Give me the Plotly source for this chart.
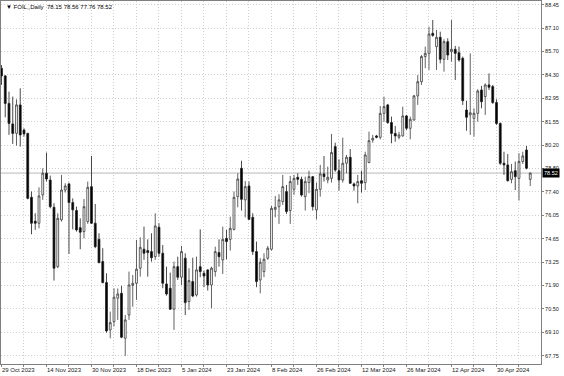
import plotly.graph_objects as go

# ---- data ----
opens = [84.70, 84.25, 82.63, 81.42, 80.86, 82.54, 81.06, 80.86, 77.09, 75.68,
         75.56, 77.23, 78.51, 78.11, 76.50, 73.00, 75.76, 77.52, 77.88, 76.78,
         76.31, 75.30, 75.07, 75.66, 77.72, 75.56, 74.61, 73.30, 72.06, 69.27,
         69.76, 71.14, 71.43, 68.78, 70.15, 71.90, 72.02, 72.91, 74.03, 73.95,
         73.89, 73.59, 75.32, 73.79, 71.98, 71.73, 70.49, 73.00, 72.38, 73.50,
         70.94, 72.12, 71.33, 73.00, 72.61, 72.81, 71.92, 72.71, 73.83, 73.40,
         74.67, 74.61, 75.20, 77.13, 78.80, 76.94, 77.76, 75.91, 73.89, 72.22,
         72.71, 73.50, 74.03, 76.38, 76.54, 76.84, 77.43, 76.31, 77.56, 78.27,
         78.15, 77.13, 77.96, 78.31, 76.35, 77.56, 78.47, 78.11, 78.21, 80.08,
         78.66, 78.11, 79.10, 79.45, 77.88, 77.76, 78.07, 77.96, 79.14, 80.47,
         80.71, 80.63, 82.04, 82.54, 81.50, 80.86, 80.63, 80.71, 81.89, 81.16,
         81.65, 83.07, 83.91, 85.39, 85.58, 86.76, 85.98, 86.53, 85.23, 86.27,
         85.68, 85.82, 85.62, 85.29, 82.24, 81.95, 81.75, 82.04, 83.42, 83.03,
         83.72, 83.62, 82.68, 81.45, 79.10, 79.00, 78.15, 78.66, 78.21, 79.20,
         79.88, 78.15]
highs = [84.89, 84.30, 83.32, 83.03, 82.87, 83.52, 81.16, 80.90, 77.43, 76.15,
         77.68, 78.80, 79.73, 78.37, 76.74, 76.15, 78.41, 77.92, 77.96, 77.03,
         76.54, 75.85, 76.99, 78.02, 79.53, 76.70, 74.97, 74.09, 72.61, 70.35,
         71.73, 71.71, 71.87, 70.15, 72.71, 72.51, 74.58, 74.73, 75.36, 74.61,
         74.97, 76.15, 75.56, 74.28, 73.00, 72.65, 73.30, 73.59, 74.22, 73.79,
         72.91, 73.53, 73.59, 75.20, 72.77, 72.85, 73.00, 74.18, 74.61, 75.36,
         75.17, 75.95, 77.43, 78.51, 79.25, 78.05, 78.02, 76.15, 74.48, 73.50,
         73.79, 74.22, 76.58, 77.17, 77.27, 78.41, 77.82, 78.35, 78.41, 78.51,
         78.31, 78.31, 78.66, 78.35, 77.96, 79.00, 79.53, 78.90, 80.83, 80.31,
         79.33, 80.61, 79.59, 79.94, 77.96, 78.41, 78.66, 79.78, 80.96, 80.77,
         80.77, 82.48, 83.03, 82.60, 81.85, 81.30, 80.96, 82.44, 81.95, 81.85,
         83.13, 84.30, 85.48, 85.98, 87.15, 87.55, 86.96, 86.86, 86.41, 86.47,
         87.55, 86.02, 85.98, 85.39, 82.79, 85.58, 82.34, 83.46, 83.66, 83.81,
         84.40, 83.72, 82.87, 81.50, 79.78, 79.65, 79.06, 79.20, 79.69, 79.78,
         80.12, 78.56]
lows = [83.72, 81.81, 80.77, 80.24, 80.14, 80.08, 80.67, 76.97, 74.91, 75.17,
        75.26, 76.94, 78.02, 76.44, 72.18, 72.91, 75.66, 77.37, 73.75, 75.20,
        75.07, 74.03, 74.67, 75.52, 75.52, 74.09, 73.20, 72.02, 69.11, 68.78,
        69.47, 69.86, 68.78, 67.74, 69.86, 70.64, 71.04, 72.41, 73.40, 72.41,
        73.30, 73.40, 73.59, 71.73, 71.29, 70.45, 69.27, 72.22, 71.92, 70.15,
        70.45, 71.20, 71.24, 72.38, 71.79, 71.59, 70.55, 72.41, 73.00, 72.57,
        73.44, 73.95, 75.13, 76.50, 76.31, 75.91, 75.76, 73.69, 71.79, 71.43,
        72.38, 73.40, 73.95, 75.91, 75.52, 76.64, 76.11, 75.52, 77.23, 77.82,
        77.13, 76.31, 77.33, 76.31, 75.79, 77.13, 78.02, 77.92, 77.96, 78.60,
        77.48, 77.96, 78.51, 77.88, 77.48, 76.74, 77.37, 77.52, 79.10, 80.31,
        80.57, 80.51, 81.55, 81.42, 80.28, 80.37, 80.51, 80.67, 81.06, 80.51,
        81.61, 82.54, 83.72, 84.70, 84.60, 86.56, 84.60, 84.99, 84.50, 85.19,
        85.09, 84.01, 85.09, 82.54, 81.02, 80.77, 80.67, 81.55, 82.34, 81.95,
        83.42, 82.60, 81.36, 79.00, 78.41, 78.02, 77.92, 77.52, 76.90, 79.06,
        78.74, 77.76]
closes = [84.25, 82.63, 81.45, 80.86, 82.54, 80.77, 80.83, 77.03, 75.56, 75.56,
          77.17, 78.51, 78.17, 76.54, 72.91, 75.85, 77.52, 77.76, 76.78, 76.35,
          75.17, 75.03, 76.54, 77.68, 75.56, 74.18, 73.24, 72.06, 69.21, 69.70,
          71.20, 71.39, 68.84, 69.86, 71.92, 72.02, 72.85, 74.14, 73.79, 73.83,
          73.53, 75.40, 73.79, 72.02, 71.39, 70.49, 73.00, 72.38, 73.89, 70.88,
          72.18, 71.27, 72.81, 72.71, 72.45, 71.92, 72.91, 73.89, 73.59, 74.61,
          74.48, 75.26, 77.09, 78.17, 76.97, 77.72, 75.79, 73.89, 72.12, 73.26,
          73.44, 74.09, 76.44, 76.50, 76.94, 77.72, 76.25, 78.02, 78.21, 78.15,
          77.23, 78.02, 78.31, 76.54, 77.56, 78.47, 78.31, 78.27, 79.73, 78.70,
          78.11, 79.10, 79.45, 77.92, 77.76, 78.02, 77.92, 79.59, 80.43, 80.57,
          80.63, 82.04, 82.44, 81.50, 80.86, 80.71, 80.77, 81.89, 81.16, 81.69,
          83.07, 83.91, 85.39, 85.58, 86.72, 86.64, 86.53, 85.23, 86.27, 85.48,
          85.82, 85.58, 85.19, 82.79, 81.81, 82.08, 82.04, 83.36, 82.73, 83.72,
          83.58, 82.68, 81.45, 79.10, 79.00, 78.07, 78.60, 78.31, 79.20, 79.53,
          78.80, 78.52]

date_labels = ["29 Oct 2023", "14 Nov 2023", "30 Nov 2023", "18 Dec 2023",
               "5 Jan 2024", "23 Jan 2024", "8 Feb 2024", "26 Feb 2024",
               "12 Mar 2024", "26 Mar 2024", "12 Apr 2024", "30 Apr 2024"]
bars_per_label = 12

price_ticks = ["88.45", "87.10", "85.70", "84.30", "82.95", "81.55", "80.20", "78.80",
               "77.40", "76.05", "74.65", "73.25", "71.90", "70.50", "69.10", "67.75"]
price_top = 88.45
price_step = 1.38

symbol_title = "FOIL,,Daily"
last_price = closes[-1]

# ---- figure ----
n = len(opens)
xs = list(range(n))
FONT = "Liberation Sans"

fig = go.Figure(go.Candlestick(
    x=xs, open=opens, high=highs, low=lows, close=closes,
    increasing=dict(line=dict(color="#3a3a3a", width=0.8), fillcolor="#ffffff"),
    decreasing=dict(line=dict(color="#1a1a1a", width=0.8), fillcolor="#000000"),
    whiskerwidth=0, hoverinfo="skip", showlegend=False,
))

grid = dict(showgrid=True, gridcolor="#cfcfcf", gridwidth=1, griddash="1px,2px",
            showline=True, mirror=True, linecolor="#808080", linewidth=1,
            zeroline=False)

fig.update_layout(
    width=564, height=376, autosize=False,
    margin=dict(l=1, r=23, t=1, b=12),
    paper_bgcolor="#ffffff", plot_bgcolor="#ffffff",
    font=dict(family=FONT, size=6, color="#000000"),
    xaxis=dict(range=[-0.13, 143.87], tickvals=list(range(0, 144, 6)),
               showticklabels=False, ticks="outside", ticklen=2,
               tickcolor="#808080", rangeslider=dict(visible=False), **grid),
    yaxis=dict(side="right", range=[67.26, 88.668],
               tickvals=[price_top - k * price_step for k in range(len(price_ticks))],
               ticktext=price_ticks, ticks="outside", ticklen=2,
               tickcolor="#808080",
               tickfont=dict(family=FONT, size=5.5, color="#202020"), **grid),
)

# current price line and label
fig.add_shape(type="line", xref="paper", x0=0, x1=1, yref="y",
              y0=last_price, y1=last_price, line=dict(color="#b8b8b8", width=1),
              layer="below")
fig.add_annotation(xref="paper", x=1, xanchor="left", xshift=1, yref="y",
                   y=last_price, text=f"{last_price:.2f}", showarrow=False,
                   bgcolor="#000000", borderpad=1,
                   font=dict(family=FONT, size=5.5, color="#ffffff"))

# title
fig.add_annotation(xref="paper", yref="paper", x=0, y=1, xanchor="left",
                   yanchor="top", xshift=3, yshift=-1, showarrow=False,
                   text=f"▼ {symbol_title}  {opens[-1]:.2f} {highs[-1]:.2f} "
                        f"{lows[-1]:.2f} {closes[-1]:.2f}",
                   font=dict(family=FONT, size=6, color="#000000"))

# date labels (left-aligned at their bar, MT4 style)
for k, lab in enumerate(date_labels):
    fig.add_annotation(xref="x", yref="paper", x=k * bars_per_label, y=0,
                       xanchor="left", yanchor="top", yshift=-1, xshift=-1,
                       showarrow=False, text=lab,
                       font=dict(family=FONT, size=6, color="#202020"))

fig.write_html("out.html")
